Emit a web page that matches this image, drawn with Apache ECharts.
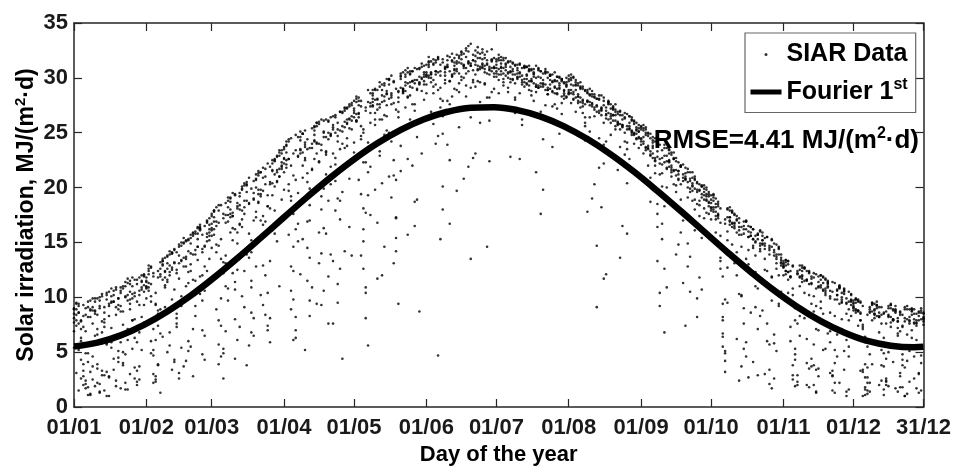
<!DOCTYPE html>
<html><head><meta charset="utf-8">
<script src="https://cdn.jsdelivr.net/npm/echarts@6/dist/echarts.min.js"></script>
<style>html,body{margin:0;padding:0;background:#fff}#c{width:954px;height:471px}</style>
</head><body><div id="c"></div>
<script>
const tickDays = [1, 32, 60, 91, 121, 152, 182, 213, 244, 274, 305, 335, 365];
const tickLabels = ['01/01', '01/02', '01/03', '01/04', '01/05', '01/06', '01/07', '01/08', '01/09', '01/10', '01/11', '01/12', '31/12'];

const fitDays = [1, 11, 21, 31, 41, 51, 61, 71, 81, 91, 101, 111, 121, 131, 141, 151, 161, 171, 181, 191, 201, 211, 221, 231, 241, 251, 261, 271, 281, 291, 301, 311, 321, 331, 341, 351, 361, 365];
const fitValues = [5.51, 5.86, 6.53, 7.49, 8.71, 10.15, 11.79, 13.56, 15.41, 17.29, 19.15, 20.93, 22.57, 24.03, 25.26, 26.23, 26.91, 27.28, 27.33, 27.06, 26.47, 25.58, 24.42, 23.03, 21.44, 19.69, 17.86, 15.98, 14.11, 12.31, 10.63, 9.12, 7.83, 6.79, 6.02, 5.59, 5.45, 5.49];

const siarYear1 = [
8.1,7.4,9.2,6.3,2.8,1.7,4.9,8.8,7.6,9.6,3.5,2.1,5.8,9.1,10.2,8.3,7.2,4.4,1.9,9.9,10.6,8.7,11.0,6.1,3.0,7.9,10.4,11.6,9.3,5.2,11.1,
10.8,12.1,9.6,4.7,2.3,8.5,11.9,13.0,10.9,12.6,6.8,3.4,13.2,14.1,11.7,9.2,14.9,12.8,5.1,15.4,13.9,15.8,16.4,10.3,7.0,14.6,16.9,15.2,
15.6,17.3,14.1,7.9,4.6,12.2,16.8,18.2,15.9,17.7,11.4,18.6,19.5,16.4,9.1,3.8,14.7,19.9,20.6,17.8,21.1,19.2,12.9,8.4,18.3,21.9,20.4,22.6,15.1,21.7,23.1,
21.4,23.2,19.7,10.6,6.1,16.2,22.8,24.3,20.9,23.7,14.5,8.3,21.6,24.8,25.6,22.4,18.0,25.1,23.3,11.9,20.3,25.7,26.4,24.2,17.1,26.9,23.6,27.2,25.4,13.8,
24.1,26.7,27.5,19.4,12.6,22.3,27.8,25.9,28.4,26.2,16.8,27.3,28.9,29.3,26.5,21.0,28.6,29.6,27.1,9.4,23.8,29.0,30.1,28.3,30.4,27.6,18.7,29.8,30.9,28.8,30.3,
29.4,31.0,30.3,28.6,31.4,24.7,15.3,27.9,30.8,31.2,29.7,31.6,30.4,28.9,31.8,30.1,32.2,29.3,31.5,26.4,30.7,32.0,31.1,29.6,32.6,30.5,31.3,28.2,31.7,30.9,
31.2,29.8,31.6,30.4,31.0,28.7,30.6,31.4,29.5,30.9,22.6,30.2,31.1,29.9,30.7,28.4,30.5,29.2,30.8,30.0,29.4,30.6,28.9,30.3,29.7,27.6,30.1,29.3,29.9,28.6,29.6,
29.7,28.9,30.1,28.2,29.5,27.8,29.2,24.3,28.6,29.0,27.4,28.5,26.9,28.1,18.2,11.7,26.3,27.9,27.2,26.6,27.6,25.8,27.0,26.2,21.9,26.7,25.4,26.4,24.9,25.9,25.1,
25.3,24.6,25.5,23.8,24.9,22.7,24.2,17.6,10.4,21.3,23.6,22.9,23.4,21.8,22.6,20.2,14.8,21.9,22.1,20.7,21.4,19.6,20.9,16.1,8.2,18.4,20.2,19.3,19.8,18.7,
18.6,19.1,17.4,18.3,12.6,6.4,3.2,15.2,17.9,16.8,17.6,15.9,17.2,10.1,16.5,16.9,14.3,8.6,4.1,13.8,15.7,16.0,14.9,15.4,11.3,5.7,14.6,14.9,13.1,9.4,13.6,
12.8,13.2,11.6,7.3,2.9,4.8,12.4,11.9,12.7,10.4,6.2,1.8,3.7,11.8,12.1,10.9,11.6,8.5,5.3,11.2,10.6,11.4,9.8,4.6,2.2,7.1,10.8,9.9,10.5,8.3,
9.4,8.6,9.8,7.9,3.4,1.6,2.7,8.9,9.3,8.1,9.6,6.8,2.4,4.9,8.7,9.2,7.7,8.8,5.6,1.4,3.1,8.4,9.1,8.0,8.9,6.3,2.6,7.4,8.6,9.0,8.2
];
const siarYear2 = [
9.0,9.4,8.6,7.1,3.9,2.4,8.2,9.7,9.1,6.5,2.2,1.4,3.3,7.7,9.8,10.5,9.6,10.2,8.4,4.1,5.9,10.8,11.4,9.7,11.2,10.3,3.6,2.0,6.8,11.5,12.0,
11.8,10.6,12.7,12.2,9.3,3.8,6.7,12.9,13.6,11.4,13.9,12.5,14.3,8.1,2.6,5.4,13.6,15.1,14.2,15.7,11.6,16.0,15.3,16.6,9.7,4.3,12.4,16.2,
17.6,16.2,14.8,17.9,18.4,13.2,6.9,10.8,18.7,17.4,19.3,18.1,16.7,19.8,20.2,13.9,5.6,11.5,18.9,20.7,21.3,19.4,20.9,15.6,7.4,18.1,21.6,22.4,20.6,22.9,21.9,
23.5,22.1,24.2,18.8,12.4,20.7,24.6,23.1,24.9,22.5,16.9,9.7,19.4,25.2,24.0,25.8,23.4,26.1,15.8,7.6,21.9,25.5,26.6,24.7,26.9,4.4,14.2,23.8,26.2,27.5,
27.2,26.1,27.9,25.6,18.1,10.9,23.7,27.4,28.6,26.8,28.9,27.6,20.4,14.6,25.2,29.4,28.2,29.7,17.3,27.8,29.9,28.7,30.3,22.6,29.2,30.6,29.5,30.8,8.7,26.3,30.5,
31.2,30.0,31.5,25.8,30.6,31.9,29.1,31.4,30.2,23.9,16.7,28.3,31.1,32.1,30.4,31.7,20.8,30.9,32.4,31.3,29.8,23.1,30.7,31.8,32.3,29.5,31.6,30.3,28.7,31.0,
31.7,30.8,31.3,29.6,31.8,30.5,31.0,29.9,26.8,30.7,31.2,29.4,30.9,30.2,31.1,28.8,30.4,21.4,29.1,30.6,29.8,30.8,28.5,30.2,29.6,30.5,29.0,30.1,27.7,29.5,30.0,
30.2,29.4,28.7,29.8,28.3,29.6,27.9,25.9,17.8,28.4,28.8,27.3,28.1,26.8,28.4,27.5,24.2,27.8,26.5,27.3,26.9,21.6,13.6,25.7,26.8,25.3,26.5,24.8,26.1,25.5,24.6,
25.6,24.2,25.0,23.5,20.9,24.1,24.5,22.8,23.9,22.1,18.3,10.9,22.4,23.2,21.6,22.7,20.8,21.9,17.5,7.4,12.8,20.6,21.4,19.9,20.5,18.8,15.4,19.6,20.0,18.3,
19.3,18.0,17.1,18.7,15.6,6.7,9.8,17.3,18.2,16.4,17.5,14.1,16.8,15.7,16.9,5.9,2.7,12.1,16.2,15.1,15.8,14.7,15.6,12.5,7.6,14.3,15.2,13.8,5.1,9.2,13.9,
13.1,12.4,13.3,11.9,10.2,4.3,12.1,12.9,11.4,8.1,2.0,3.5,11.7,12.2,10.8,11.9,9.0,5.2,10.6,11.5,10.1,2.8,1.3,6.6,10.9,9.8,10.7,9.4,7.9,10.3,
9.2,9.9,8.8,9.5,7.3,2.7,1.5,4.8,9.4,8.5,9.0,8.2,7.6,3.7,2.3,8.4,9.3,8.0,8.9,6.5,1.8,4.3,8.1,9.2,7.8,8.7,4.6,1.7,3.0,8.8,8.5
];
const siarYear3 = [
5.4,3.1,1.5,7.8,9.3,8.4,9.6,8.9,4.6,1.9,7.1,9.2,10.1,8.6,5.8,2.7,9.5,10.6,9.1,5.1,1.7,3.8,10.1,11.3,9.8,7.9,11.6,3.3,2.5,10.7,9.3,
11.0,12.4,4.9,2.2,6.1,11.8,13.2,11.6,9.1,13.7,12.3,14.1,4.3,7.6,13.1,14.7,12.8,15.2,11.3,5.5,2.8,13.9,15.8,16.3,14.1,10.6,16.8,15.6,
16.1,17.9,8.9,3.9,12.3,17.2,18.6,16.9,19.1,15.2,10.7,6.1,18.0,19.9,17.6,20.3,13.6,8.6,19.0,20.8,18.7,21.4,17.4,12.0,7.0,20.3,22.2,20.1,22.8,21.0,18.9,
22.2,23.8,22.6,19.2,9.8,6.3,16.7,23.4,24.9,22.7,21.3,13.6,23.6,25.6,23.1,13.1,9.3,19.9,24.6,26.0,24.7,23.1,17.9,11.2,25.2,26.8,25.5,27.3,20.8,26.1,
26.4,27.8,26.7,24.4,16.2,27.3,28.9,26.8,28.1,19.8,11.7,26.2,29.4,27.9,28.8,29.8,27.6,22.5,15.4,28.2,30.2,28.6,29.6,30.5,26.2,29.1,30.9,28.9,30.1,23.1,29.4,
30.1,31.4,29.6,31.2,30.3,31.7,27.3,20.1,29.8,31.0,31.9,30.2,31.4,30.6,29.5,32.1,31.2,30.4,32.9,31.1,31.6,30.3,29.7,25.9,31.3,30.8,14.6,22.4,31.5,30.4,
30.4,31.6,30.6,29.9,31.3,29.1,22.8,29.8,31.2,30.0,30.4,29.6,31.0,29.4,30.6,29.7,30.8,29.2,30.1,26.9,29.5,30.4,29.1,30.2,28.8,29.7,28.5,24.9,29.9,28.4,29.2,
28.6,29.8,28.0,29.3,27.7,29.0,27.4,26.4,28.9,27.5,28.3,27.1,28.1,27.0,26.6,22.2,12.1,26.8,27.6,26.1,27.1,25.9,26.6,25.6,26.3,23.5,25.6,26.1,24.8,25.3,24.5,
24.5,25.2,23.6,24.7,23.0,23.8,22.7,16.4,22.6,23.4,22.3,21.8,22.5,21.6,20.3,13.9,21.5,22.0,21.2,20.8,20.5,19.9,20.2,18.0,9.9,19.7,20.1,18.9,19.4,18.6,
18.2,19.3,17.8,18.5,16.8,9.4,4.2,12.7,17.3,17.9,16.5,17.1,16.1,14.6,7.6,16.2,15.5,16.4,15.3,11.0,2.9,8.3,15.2,14.7,15.5,14.5,11.9,6.6,13.9,14.4,13.2,
12.7,13.4,12.3,11.8,10.8,5.3,2.0,8.3,12.0,12.7,11.6,12.2,9.4,3.8,1.4,7.0,11.1,11.9,10.4,11.3,8.6,2.9,5.2,10.2,10.9,9.6,10.5,6.1,1.6,9.7,
9.5,8.8,9.7,8.6,7.5,3.9,1.2,2.2,8.7,9.4,8.3,9.1,8.4,6.3,2.6,5.0,9.0,7.9,8.6,7.8,6.9,1.8,1.0,4.2,8.2,8.9,7.6,8.5,7.9,4.7,8.0
];
const siarYear4 = [
8.9,7.9,8.6,6.0,3.3,2.1,1.1,3.2,8.8,9.9,8.4,10.0,6.8,1.5,1.0,2.8,5.9,9.6,10.9,9.3,10.4,5.0,2.2,7.1,10.5,11.8,10.1,11.2,3.7,8.2,11.9,
11.4,10.9,12.8,11.9,9.4,3.9,1.3,6.4,12.3,13.8,12.0,14.0,13.1,8.5,3.1,13.3,15.0,13.5,15.3,12.4,7.1,11.5,14.6,16.2,14.4,16.5,15.8,13.5,
16.7,17.8,16.9,14.7,7.4,2.6,11.0,17.5,19.0,17.4,19.4,18.3,16.6,10.1,18.8,20.2,18.5,15.2,6.5,12.8,19.8,21.4,19.7,21.7,18.3,8.1,16.1,21.2,22.9,21.0,23.4,
22.6,24.2,20.3,12.8,23.1,24.8,22.9,25.1,15.3,5.2,11.5,23.6,25.4,24.3,25.9,22.3,19.2,24.6,26.2,24.4,13.9,7.6,22.1,25.3,26.9,25.1,27.2,26.2,27.6,22.6,
26.8,28.3,26.4,27.4,25.3,17.7,5.6,21.9,27.8,28.9,28.1,29.2,27.8,24.8,28.6,29.9,28.4,21.1,14.2,26.9,29.1,30.5,28.8,29.5,30.6,29.7,27.6,18.9,29.6,31.0,30.1,
30.3,31.2,30.5,29.2,31.6,28.9,30.6,31.7,30.9,27.9,22.5,30.1,31.8,30.8,32.0,31.3,30.0,32.5,31.4,31.1,29.6,31.5,32.3,31.0,30.9,32.1,28.2,31.0,30.6,31.8,
30.6,31.8,30.3,31.6,30.2,31.4,29.9,30.3,31.1,30.1,28.6,30.9,29.6,31.0,29.3,30.7,30.1,29.4,30.9,29.2,30.4,28.9,30.5,29.0,23.7,29.2,30.1,29.1,29.7,28.8,29.4,
28.7,30.0,28.5,29.4,28.3,29.1,27.7,28.8,27.8,25.1,19.0,28.2,27.5,28.4,27.3,27.9,26.6,27.7,26.7,27.1,26.1,26.7,25.8,16.5,23.0,25.6,26.5,25.2,25.8,24.9,25.1,
23.9,25.4,23.7,25.0,23.3,24.3,21.3,13.3,19.5,22.7,23.9,22.4,23.1,22.0,22.7,21.6,22.3,18.9,11.3,21.0,21.7,20.8,20.4,21.0,20.4,19.8,20.1,17.2,18.9,19.2,
17.9,18.8,19.0,17.5,14.5,7.9,17.1,18.0,17.0,16.7,13.1,6.2,2.4,10.2,16.2,17.0,16.0,15.6,14.7,9.1,15.3,16.1,14.8,14.4,11.1,3.4,1.7,5.8,13.7,14.5,13.1,
12.8,13.4,12.3,11.9,12.9,9.0,2.9,6.5,11.7,12.6,11.6,12.3,11.3,5.7,1.3,3.5,10.9,11.8,10.8,11.4,9.9,7.3,2.2,10.2,11.0,9.5,10.3,8.5,4.6,9.3,
9.0,9.8,8.8,7.9,3.2,1.1,5.5,8.6,9.5,8.5,9.2,8.3,5.2,1.6,2.4,8.2,9.3,8.0,8.7,7.8,8.4,3.8,1.0,6.6,7.9,8.8,8.0,7.6,3.1,1.5,7.8
];
const siarYear5 = [
7.7,8.9,9.4,7.9,8.3,4.9,1.8,1.1,2.5,8.8,9.9,9.0,10.3,7.3,3.2,1.0,5.4,9.6,10.7,9.9,8.7,4.0,1.6,10.2,11.5,9.9,6.3,2.3,10.6,12.0,10.5,
10.9,12.6,11.2,7.1,2.8,8.8,12.1,13.3,12.4,11.6,5.6,12.7,14.4,12.5,14.6,10.1,3.7,13.7,15.2,14.0,15.8,9.2,14.6,16.4,15.7,12.8,15.5,17.2,
16.3,17.9,16.5,18.4,13.5,5.3,17.5,19.1,17.3,12.2,4.4,15.9,18.4,20.1,18.2,20.5,18.6,10.9,19.5,21.2,19.4,17.0,9.3,20.3,22.2,20.5,22.5,15.8,21.6,23.4,21.7,
22.7,23.9,22.6,24.5,17.6,8.2,15.1,23.5,24.9,23.9,23.5,19.9,10.9,24.2,25.9,24.0,26.2,16.3,23.2,25.0,26.4,25.3,20.6,9.5,18.8,25.6,27.3,25.8,26.3,27.7,
27.0,28.1,26.8,27.9,22.3,10.4,19.3,27.7,28.9,28.0,27.6,29.6,26.2,28.3,29.9,28.1,30.2,25.1,17.2,28.7,30.4,28.8,29.3,30.9,29.6,30.6,29.8,26.0,29.5,31.3,29.7,
30.2,31.5,30.4,31.7,30.6,4.7,31.2,26.5,30.5,32.0,30.6,31.5,30.8,19.7,31.4,32.4,31.1,32.7,31.3,33.1,31.6,32.5,31.8,32.2,31.0,31.8,31.2,30.8,32.6,30.9,
30.9,32.1,31.0,31.8,30.7,31.5,30.5,31.3,30.3,31.2,30.1,26.2,29.9,31.0,29.7,30.8,29.5,31.1,29.3,30.6,29.2,30.5,28.9,30.2,28.7,29.8,27.2,30.0,28.3,29.6,28.2,
28.5,30.3,28.1,29.6,27.9,29.2,26.8,28.9,27.9,28.5,27.7,28.3,27.4,28.0,27.1,23.9,26.7,27.6,25.9,27.4,25.6,26.9,25.3,26.6,25.0,20.4,25.3,26.2,25.0,24.4,25.7,
24.2,25.7,23.4,24.9,22.9,24.6,22.5,23.9,22.2,20.1,12.6,21.7,23.5,21.4,23.2,21.1,20.7,15.9,20.6,21.8,20.0,21.4,19.7,20.7,18.5,11.8,19.1,20.2,18.8,19.6,
18.1,19.4,18.2,17.4,13.3,5.5,16.7,18.1,16.9,17.7,16.3,17.0,10.3,3.7,15.8,16.9,15.5,16.4,15.3,12.3,7.1,14.9,15.9,14.9,15.5,13.9,9.7,2.6,13.5,14.6,12.9,
13.0,12.4,13.3,12.4,12.8,7.9,2.3,11.8,12.9,11.5,12.4,10.2,4.4,2.0,9.2,11.0,12.0,10.7,11.7,6.7,3.1,10.5,11.3,9.8,10.8,8.0,3.4,1.0,9.6,10.2,
9.1,9.8,8.7,9.6,7.1,1.8,3.6,8.7,9.5,8.4,9.3,8.6,5.7,1.1,2.0,8.3,9.4,7.9,8.8,7.2,2.8,4.8,7.8,8.9,7.6,9.0,7.7,6.1,1.3,8.0,8.6
];
const siarYear6 = [
8.5,9.5,7.6,4.3,2.0,6.9,9.1,8.2,9.9,8.7,3.9,1.3,2.9,8.0,10.4,9.4,10.8,6.1,2.4,4.5,9.2,11.0,10.0,11.7,8.9,5.3,2.6,9.6,11.8,10.9,12.1,
11.5,12.9,10.1,5.2,2.5,7.4,12.6,13.5,11.8,13.1,14.2,9.8,4.1,12.2,14.8,13.4,15.4,11.0,6.0,13.0,15.9,14.3,16.3,11.9,4.8,14.7,17.0,15.9,
17.4,15.7,18.2,16.8,9.9,4.9,13.8,18.8,17.6,19.5,16.2,12.5,7.3,17.9,20.4,18.8,20.9,14.1,8.1,17.3,21.5,19.8,21.8,16.9,10.4,5.9,19.3,22.5,21.4,23.2,22.3,
23.7,21.8,24.4,22.0,14.6,7.0,19.5,24.6,23.2,25.2,24.4,18.4,21.7,25.5,24.1,26.0,14.0,10.6,23.0,26.1,24.8,26.5,25.0,19.0,12.6,24.0,27.0,25.9,27.4,26.5,
27.9,26.1,28.2,24.7,15.1,8.1,21.4,28.6,27.4,29.0,27.1,23.3,28.4,29.5,27.5,29.9,24.2,13.1,20.7,28.8,30.1,29.0,30.7,28.2,30.3,22.0,16.5,29.0,30.8,29.9,31.1,
30.5,31.9,30.0,31.3,29.4,31.8,30.2,24.9,31.0,31.6,29.7,32.2,30.7,31.5,28.7,32.3,30.9,31.9,21.9,29.1,32.1,31.2,32.8,30.8,31.7,31.1,32.4,30.7,31.6,30.1,
31.5,30.3,31.9,30.9,31.2,30.0,31.5,30.6,28.0,30.4,31.3,29.8,31.0,29.5,30.8,29.9,30.3,28.7,30.7,29.5,19.8,27.5,30.0,29.4,30.3,28.6,29.7,29.0,29.8,28.1,29.3,
29.9,28.6,30.0,28.9,29.3,28.2,29.0,27.6,28.7,27.8,28.5,26.5,14.7,21.8,27.2,28.2,27.0,27.8,26.3,27.2,26.6,25.7,26.9,25.5,26.4,24.1,25.9,25.1,26.0,24.5,25.4,
25.5,24.0,25.3,23.6,24.5,23.1,22.0,18.5,9.2,16.7,22.9,23.6,21.9,23.0,21.5,22.4,21.2,22.0,20.9,21.3,14.9,10.5,18.8,20.8,19.8,20.3,19.4,19.9,17.7,19.4,
18.9,17.8,18.5,17.2,18.1,11.9,4.9,9.5,16.6,17.8,16.8,17.4,16.4,12.8,5.3,13.5,16.5,15.6,16.2,15.0,15.7,14.2,8.8,3.0,12.4,14.7,15.3,14.3,14.8,12.0,13.4,
13.3,12.1,13.0,9.5,3.8,1.9,7.6,12.5,11.9,12.7,11.5,12.4,11.2,8.7,3.4,11.4,12.0,10.6,11.6,10.9,5.9,1.5,4.0,10.7,11.1,10.0,10.6,9.5,5.5,9.8,
9.7,8.9,9.6,8.5,9.2,6.4,2.2,1.4,3.9,8.8,9.3,8.2,9.1,8.6,4.4,1.9,7.3,8.9,9.2,8.1,8.7,7.4,3.6,1.2,5.1,8.4,8.9,7.7,8.3,8.6,8.1
];
const siarYear7 = [
6.9,8.4,5.2,2.6,7.3,9.0,4.1,1.2,3.7,8.5,6.6,9.7,7.8,2.9,5.7,9.2,10.1,3.4,6.4,8.9,10.9,7.5,4.8,1.6,9.4,11.0,8.0,5.9,10.2,11.4,7.7,
9.9,11.3,6.0,3.0,10.4,12.4,8.9,13.3,11.1,5.0,12.9,14.0,10.7,7.3,13.8,15.0,9.6,4.2,12.3,14.9,15.6,8.3,13.4,16.1,12.0,6.5,15.1,16.6,
14.5,16.9,11.8,5.7,15.3,17.6,13.1,9.7,18.0,16.3,8.0,14.9,19.2,17.1,12.4,19.6,15.8,6.8,17.0,20.0,18.6,10.2,16.6,21.0,19.3,13.3,21.5,17.9,20.5,11.0,22.0,
19.8,22.5,15.7,8.9,21.1,23.4,18.5,12.1,22.0,24.1,20.5,17.0,24.0,22.6,9.4,15.9,23.9,25.0,21.2,18.8,24.9,13.3,22.7,25.9,23.5,19.6,26.0,24.5,16.4,25.3,
23.2,26.0,20.7,13.8,25.0,27.0,24.1,17.5,27.5,25.7,28.0,22.9,12.0,26.6,28.5,25.0,19.1,27.7,29.0,26.4,21.5,28.9,27.3,15.7,28.4,29.7,27.0,24.6,29.4,30.0,28.0,
28.6,30.2,26.9,29.8,24.0,30.5,28.1,18.0,29.5,31.0,27.6,30.3,29.0,31.3,25.5,29.8,31.1,28.3,30.6,13.5,22.7,29.2,30.8,27.8,31.2,29.4,30.4,26.1,30.9,29.0,
30.1,28.6,30.9,29.3,27.3,30.4,29.6,30.8,28.2,29.9,30.5,25.7,29.2,30.3,28.9,29.7,27.9,30.0,29.1,17.6,24.4,29.4,28.5,29.8,27.4,29.1,28.6,29.5,26.7,28.9,28.3,
28.9,27.7,29.3,26.9,28.5,27.3,28.0,25.6,27.9,26.4,27.6,20.3,9.1,24.5,27.0,25.9,27.3,26.2,24.8,26.6,25.3,26.0,23.7,25.7,24.2,15.8,22.6,25.0,24.0,25.2,23.6,
24.4,23.1,24.8,22.0,18.7,23.6,22.4,23.3,21.2,15.3,6.8,20.0,22.3,21.0,22.6,19.6,21.5,20.3,17.0,20.8,19.1,13.7,20.1,18.9,19.6,17.4,10.7,18.1,19.2,17.6,
17.1,18.2,15.9,17.6,13.6,8.2,5.1,16.0,17.3,14.8,16.7,12.0,15.7,16.4,9.0,4.6,13.0,15.9,14.5,15.6,10.8,14.4,15.2,13.5,6.0,2.1,11.8,14.1,12.6,13.9,10.5,
12.0,12.9,10.4,6.0,2.5,9.2,12.2,11.0,12.4,8.8,4.0,11.2,11.9,10.1,7.1,2.8,9.6,11.3,10.2,11.0,6.9,3.3,8.3,10.6,9.4,10.4,5.1,1.4,8.9,9.6,
8.8,9.5,7.4,3.3,1.0,5.9,8.4,9.1,7.9,8.9,6.0,2.0,3.8,8.5,7.6,9.0,8.2,4.1,1.7,6.7,8.6,7.3,8.9,5.4,2.3,7.0,8.5,7.9,8.7,4.0,7.5
];

const FONT = "'Liberation Sans', Arial, sans-serif";
const AXIS_COLOR = '#262626';

const scatterData = [];
[siarYear1, siarYear2, siarYear3, siarYear4, siarYear5, siarYear6, siarYear7].forEach(function (arr) {
  arr.forEach(function (v, i) { if (i < 365) scatterData.push([i + 1, v]); });
});
const fitData = fitDays.map(function (d, i) { return [d, fitValues[i]]; });

const labelMap = {};
tickDays.forEach(function (d, i) { labelMap[d] = tickLabels[i]; });

const chart = echarts.init(document.getElementById('c'), null, { renderer: 'canvas' });
chart.setOption({
  animation: false,
  backgroundColor: '#fff',
  grid: { left: 74, right: 28, top: 23, bottom: 64, containLabel: false },
  title: {
    text: '{b|RMSE=4.41 MJ/(m}{s|2}{b|·d)}',
    right: 35, top: 125, padding: 0,
    textStyle: {
      rich: {
        b: { fontFamily: FONT, fontWeight: 'bold', fontSize: 26, color: '#000', lineHeight: 32 },
        s: { fontFamily: FONT, fontWeight: 'bold', fontSize: 16, color: '#000', padding: [0, 0, 15, 0] }
      }
    }
  },
  legend: {
    left: 745, top: 33,
    orient: 'vertical',
    padding: [9, 8, 8, 3],
    itemGap: 10,
    itemWidth: 31, itemHeight: 3,
    itemStyle: { borderWidth: 0 },
    borderColor: '#666', borderWidth: 1.2,
    backgroundColor: '#fff',
    data: [
      { name: 'SIAR Data', icon: 'circle' },
      { name: 'Fourier 1st', lineStyle: { width: 5, color: '#000' } }
    ],
    formatter: function (name) {
      if (name === 'Fourier 1st') return '{b|Fourier 1}{s|st}';
      return '{b|' + name + '}';
    },
    textStyle: {
      rich: {
        b: { fontFamily: FONT, fontWeight: 'bold', fontSize: 25, color: '#000', lineHeight: 32 },
        s: { fontFamily: FONT, fontWeight: 'bold', fontSize: 16, color: '#000', padding: [0, 0, 14, 0] }
      }
    }
  },
  xAxis: [
    {
      type: 'value', min: 1, max: 365, position: 'bottom',
      name: 'Day of the year', nameLocation: 'middle', nameGap: 36,
      nameTextStyle: { fontFamily: FONT, fontWeight: 'bold', fontSize: 22, color: '#000' },
      axisLine: { show: true, onZero: false, lineStyle: { color: AXIS_COLOR, width: 1.5 } },
      axisTick: { show: true, inside: true, length: 8, customValues: tickDays, lineStyle: { color: AXIS_COLOR, width: 1.2 } },
      axisLabel: {
        show: true, margin: 10, customValues: tickDays,
        fontFamily: FONT, fontWeight: 'bold', fontSize: 22, color: '#1a1a1a',
        formatter: function (v) { return labelMap[v] || ''; }
      },
      splitLine: { show: false }
    },
    {
      type: 'value', min: 1, max: 365, position: 'top',
      axisLine: { show: true, onZero: false, lineStyle: { color: AXIS_COLOR, width: 1.5 } },
      axisTick: { show: true, inside: true, length: 8, customValues: tickDays, lineStyle: { color: AXIS_COLOR, width: 1.2 } },
      axisLabel: { show: false },
      splitLine: { show: false }
    }
  ],
  yAxis: [
    {
      type: 'value', min: 0, max: 35, interval: 5, position: 'left',
      name: '{b|Solar irradiation, MJ/(m}{s|2}{b|·d)}', nameLocation: 'middle', nameGap: 33,
      nameMoveOverlap: false,
      nameTextStyle: {
        rich: {
          b: { fontFamily: FONT, fontWeight: 'bold', fontSize: 23, color: '#000', lineHeight: 28 },
          s: { fontFamily: FONT, fontWeight: 'bold', fontSize: 15, color: '#000', padding: [0, 0, 13, 0] }
        }
      },
      axisLine: { show: true, onZero: false, lineStyle: { color: AXIS_COLOR, width: 1.5 } },
      axisTick: { show: true, inside: true, length: 8, lineStyle: { color: AXIS_COLOR, width: 1.2 } },
      axisLabel: { show: true, margin: 6, fontFamily: FONT, fontWeight: 'bold', fontSize: 22, color: '#1a1a1a' },
      splitLine: { show: false }
    },
    {
      type: 'value', min: 0, max: 35, interval: 5, position: 'right',
      axisLine: { show: true, onZero: false, lineStyle: { color: AXIS_COLOR, width: 1.5 } },
      axisTick: { show: true, inside: true, length: 8, lineStyle: { color: AXIS_COLOR, width: 1.2 } },
      axisLabel: { show: false },
      splitLine: { show: false }
    }
  ],
  series: [
    {
      name: 'SIAR Data', type: 'scatter', xAxisIndex: 0, yAxisIndex: 0,
      data: scatterData, symbol: 'circle', symbolSize: 2.6,
      itemStyle: { color: '#000' }, silent: true, z: 2
    },
    {
      name: 'Fourier 1st', type: 'line', xAxisIndex: 0, yAxisIndex: 0,
      data: fitData, smooth: 0.4, symbol: 'none', showSymbol: false,
      lineStyle: { color: '#000', width: 6.5 }, itemStyle: { color: '#000' }, silent: true, z: 3
    }
  ]
});
</script>
</body></html>
